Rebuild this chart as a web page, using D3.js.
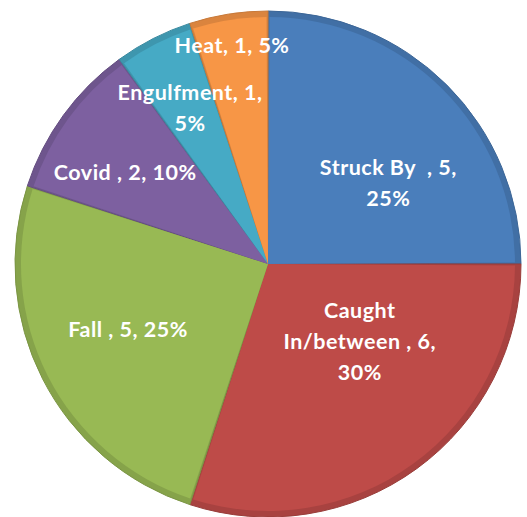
<!DOCTYPE html>
<html><head><meta charset="utf-8">
<script src="https://cdn.jsdelivr.net/npm/d3@7"></script>
<style>body{margin:0;background:#fff}svg{display:block}text{white-space:pre}</style>
</head><body>
<svg id="c" width="527" height="517"></svg>
<script>
const categories = ["Struck By ", "Caught In/between ", "Fall ", "Covid ", "Engulfment", "Heat"];
const values = [5, 6, 5, 2, 1, 1];
const percents = ["25%", "30%", "25%", "10%", "5%", "5%"];
const labelLines = [
  ["Struck By  , 5,", "25%"],
  ["Caught", "In/between , 6,", "30%"],
  ["Fall , 5, 25%"],
  ["Covid , 2, 10%"],
  ["Engulfment, 1,", "5%"],
  ["Heat, 1, 5%"]
];
const colors = ["#4a7ebb", "#be4b48", "#98b954", "#7d60a0", "#46aac5", "#f79646"];
// layout nudges (px) from arc centroid to label block centre (baseline mean)
const nudges = [[13, 34], [2.5, -37.5], [-4.7, 4], [-20, 5], [-9, -13.2], [-12.3, -61.1]];

const svg = d3.select("#c");
const cx = 268, cy = 264, r = 253;
const g = svg.append("g").attr("transform", `translate(${cx},${cy})`);
const pie = d3.pie().sort(null).value(d => d)(values);
const arc = d3.arc().innerRadius(0).outerRadius(r);
const arcIn = d3.arc().innerRadius(0).outerRadius(r - 6).padAngle(0.012).padRadius(r);
const lab = d3.arc().innerRadius(r * 0.6).outerRadius(r * 0.6);

g.selectAll("path.o").data(pie).join("path").attr("class", "o")
  .attr("d", arc)
  .attr("fill", (d, i) => d3.color(colors[i]).darker(0.35))
  .attr("stroke", (d, i) => d3.color(colors[i]).darker(0.6))
  .attr("stroke-width", 1);
g.selectAll("path.i").data(pie).join("path").attr("class", "i")
  .attr("d", arcIn)
  .attr("fill", (d, i) => colors[i]);

const lh = 31;
g.selectAll("text").data(pie).join("text")
  .attr("font-family", "Lato, 'Open Sans', sans-serif")
  .attr("font-weight", "bold")
  .attr("font-size", 21.5)
  .attr("letter-spacing", 0.5)
  .attr("fill", "#fff")
  .attr("text-anchor", "middle")
  .each(function(d, i) {
    const [x, y] = lab.centroid(d);
    const lines = labelLines[i];
    const t = d3.select(this);
    const y0 = y + nudges[i][1] - (lines.length - 1) * lh / 2;
    lines.forEach((s, k) => {
      t.append("tspan").attr("x", x + nudges[i][0]).attr("y", y0 + k * lh).text(s);
    });
  });
</script>
</body></html>
